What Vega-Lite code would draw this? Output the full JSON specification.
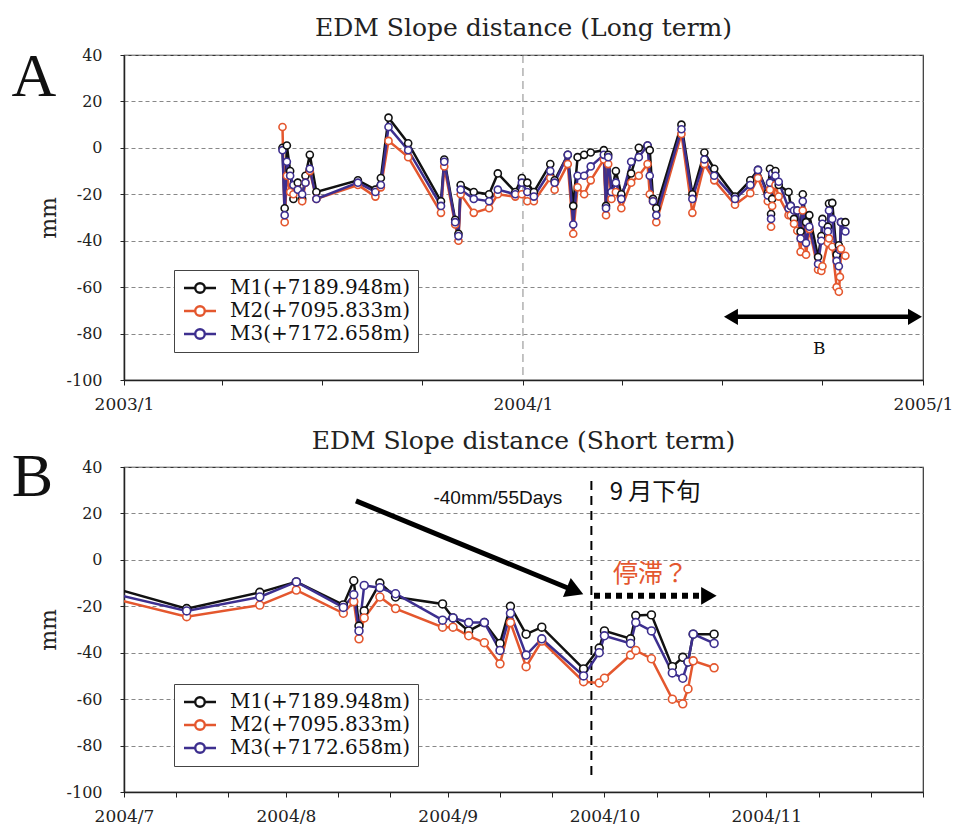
{
"$schema": "https://vega.github.io/schema/vega-lite/v6.json",
"padding": {"left": 10, "top": 15, "right": 0, "bottom": 0},
"background": "white",
"config": {
 "font": "DejaVu Serif",
 "view": {"stroke": "#333", "strokeWidth": 1.2},
 "axis": {"labelFont": "DejaVu Serif", "labelColor": "#222", "titleFont": "DejaVu Serif", "titleColor": "#222", "titleFontWeight": "normal", "domainColor": "#222", "domainWidth": 1.5, "tickColor": "#222"},
 "axisX": {"grid": false, "labelFontSize": 17, "tickSize": 5, "labelPadding": 11, "labelAngle": 0, "labelFlush": false, "labelOverlap": false},
 "axisY": {"grid": true, "gridColor": "#888", "gridDash": [4, 3], "gridWidth": 1, "labelFontSize": 16, "tickSize": 4, "labelPadding": 18, "titleFontSize": 22, "titlePadding": 6, "labelExpr": "toString(datum.value)"},
 "title": {"font": "DejaVu Serif", "fontSize": 25, "fontWeight": "normal", "color": "#222", "offset": 5},
 "legend": {"orient": "none", "title": null, "symbolType": "M-2,0H-0.6M0.6,0H2M-0.6,0A0.6,0.6,0,1,1,0.6,0A0.6,0.6,0,1,1,-0.6,0Z", "symbolSize": 256, "symbolStrokeWidth": 2.4, "symbolFillColor": "white", "symbolOffset": 8, "labelFont": "DejaVu Serif", "labelFontSize": 20, "labelColor": "#111", "labelLimit": 500, "strokeColor": "#444", "fillColor": "white", "padding": 8, "rowPadding": 3, "labelOffset": 20}
},
"datasets": {
 "edm": [
{"d":"2003-05-26","s":"M1","v":0},{"d":"2003-05-26","s":"M2","v":9},{"d":"2003-05-26","s":"M3","v":-1},
{"d":"2003-05-28","s":"M1","v":-26},{"d":"2003-05-28","s":"M2","v":-32},{"d":"2003-05-28","s":"M3","v":-29},
{"d":"2003-05-30","s":"M1","v":1},{"d":"2003-05-30","s":"M2","v":-12},{"d":"2003-05-30","s":"M3","v":-6},
{"d":"2003-06-02","s":"M1","v":-10},{"d":"2003-06-02","s":"M2","v":-19},{"d":"2003-06-02","s":"M3","v":-12},
{"d":"2003-06-05","s":"M1","v":-22},{"d":"2003-06-05","s":"M2","v":-20},{"d":"2003-06-05","s":"M3","v":-16},
{"d":"2003-06-09","s":"M1","v":-15},{"d":"2003-06-09","s":"M2","v":-18},{"d":"2003-06-09","s":"M3","v":-18},
{"d":"2003-06-13","s":"M1","v":-22},{"d":"2003-06-13","s":"M2","v":-23},{"d":"2003-06-13","s":"M3","v":-20},
{"d":"2003-06-16","s":"M1","v":-12},{"d":"2003-06-16","s":"M2","v":-15},{"d":"2003-06-16","s":"M3","v":-15},
{"d":"2003-06-20","s":"M1","v":-3},{"d":"2003-06-20","s":"M2","v":-10},{"d":"2003-06-20","s":"M3","v":-9},
{"d":"2003-06-26","s":"M1","v":-19},{"d":"2003-06-26","s":"M2","v":-22},{"d":"2003-06-26","s":"M3","v":-22},
{"d":"2003-08-03","s":"M1","v":-14},{"d":"2003-08-03","s":"M2","v":-16},{"d":"2003-08-03","s":"M3","v":-15},
{"d":"2003-08-19","s":"M1","v":-18},{"d":"2003-08-19","s":"M2","v":-21},{"d":"2003-08-19","s":"M3","v":-19},
{"d":"2003-08-24","s":"M1","v":-13},{"d":"2003-08-24","s":"M2","v":-17},{"d":"2003-08-24","s":"M3","v":-16},
{"d":"2003-08-31","s":"M1","v":13},{"d":"2003-08-31","s":"M2","v":3},{"d":"2003-08-31","s":"M3","v":9},
{"d":"2003-09-18","s":"M1","v":2},{"d":"2003-09-18","s":"M2","v":-4},{"d":"2003-09-18","s":"M3","v":-1},
{"d":"2003-10-18","s":"M1","v":-23},{"d":"2003-10-18","s":"M2","v":-28},{"d":"2003-10-18","s":"M3","v":-25},
{"d":"2003-10-21","s":"M1","v":-5},{"d":"2003-10-21","s":"M2","v":-8},{"d":"2003-10-21","s":"M3","v":-6},
{"d":"2003-10-31","s":"M1","v":-31},{"d":"2003-10-31","s":"M2","v":-33},{"d":"2003-10-31","s":"M3","v":-32},
{"d":"2003-11-03","s":"M1","v":-37},{"d":"2003-11-03","s":"M2","v":-40},{"d":"2003-11-03","s":"M3","v":-38},
{"d":"2003-11-05","s":"M1","v":-16},{"d":"2003-11-05","s":"M2","v":-20},{"d":"2003-11-05","s":"M3","v":-18},
{"d":"2003-11-17","s":"M1","v":-19},{"d":"2003-11-17","s":"M2","v":-28},{"d":"2003-11-17","s":"M3","v":-22},
{"d":"2003-12-01","s":"M1","v":-20},{"d":"2003-12-01","s":"M2","v":-26},{"d":"2003-12-01","s":"M3","v":-23},
{"d":"2003-12-09","s":"M1","v":-11},{"d":"2003-12-09","s":"M2","v":-20},{"d":"2003-12-09","s":"M3","v":-18},
{"d":"2003-12-25","s":"M1","v":-19},{"d":"2003-12-25","s":"M2","v":-21},{"d":"2003-12-25","s":"M3","v":-20},
{"d":"2003-12-31","s":"M1","v":-13},{"d":"2003-12-31","s":"M2","v":-20},{"d":"2003-12-31","s":"M3","v":-15},
{"d":"2004-01-05","s":"M1","v":-15},{"d":"2004-01-05","s":"M2","v":-23},{"d":"2004-01-05","s":"M3","v":-19},
{"d":"2004-01-11","s":"M1","v":-19},{"d":"2004-01-11","s":"M2","v":-23},{"d":"2004-01-11","s":"M3","v":-21},
{"d":"2004-01-26","s":"M1","v":-7},{"d":"2004-01-26","s":"M2","v":-13},{"d":"2004-01-26","s":"M3","v":-10},
{"d":"2004-01-30","s":"M1","v":-14},{"d":"2004-01-30","s":"M2","v":-18},{"d":"2004-01-30","s":"M3","v":-15},
{"d":"2004-02-11","s":"M1","v":-3},{"d":"2004-02-11","s":"M2","v":-7},{"d":"2004-02-11","s":"M3","v":-3},
{"d":"2004-02-16","s":"M1","v":-25},{"d":"2004-02-16","s":"M2","v":-37},{"d":"2004-02-16","s":"M3","v":-33},
{"d":"2004-02-20","s":"M1","v":-4},{"d":"2004-02-20","s":"M2","v":-17},{"d":"2004-02-20","s":"M3","v":-12},
{"d":"2004-02-26","s":"M1","v":-3},{"d":"2004-02-26","s":"M2","v":-20},{"d":"2004-02-26","s":"M3","v":-12},
{"d":"2004-03-03","s":"M1","v":-2},{"d":"2004-03-03","s":"M2","v":-14},{"d":"2004-03-03","s":"M3","v":-8},
{"d":"2004-03-15","s":"M1","v":-1},{"d":"2004-03-15","s":"M2","v":-5},{"d":"2004-03-15","s":"M3","v":-3},
{"d":"2004-03-17","s":"M1","v":-25},{"d":"2004-03-17","s":"M2","v":-29},{"d":"2004-03-17","s":"M3","v":-26},
{"d":"2004-03-19","s":"M1","v":-3},{"d":"2004-03-19","s":"M2","v":-7},{"d":"2004-03-19","s":"M3","v":-4},
{"d":"2004-03-22","s":"M1","v":-19},{"d":"2004-03-22","s":"M2","v":-22},{"d":"2004-03-22","s":"M3","v":-19},
{"d":"2004-03-26","s":"M1","v":-10},{"d":"2004-03-26","s":"M2","v":-19},{"d":"2004-03-26","s":"M3","v":-15},
{"d":"2004-03-31","s":"M1","v":-20},{"d":"2004-03-31","s":"M2","v":-26},{"d":"2004-03-31","s":"M3","v":-22},
{"d":"2004-04-09","s":"M1","v":-11},{"d":"2004-04-09","s":"M2","v":-15},{"d":"2004-04-09","s":"M3","v":-6},
{"d":"2004-04-16","s":"M1","v":0},{"d":"2004-04-16","s":"M2","v":-12},{"d":"2004-04-16","s":"M3","v":-4},
{"d":"2004-04-24","s":"M1","v":1},{"d":"2004-04-24","s":"M2","v":-7},{"d":"2004-04-24","s":"M3","v":1},
{"d":"2004-04-26","s":"M1","v":-1},{"d":"2004-04-26","s":"M2","v":-20},{"d":"2004-04-26","s":"M3","v":-12},
{"d":"2004-04-29","s":"M1","v":-22},{"d":"2004-04-29","s":"M2","v":-23},{"d":"2004-04-29","s":"M3","v":-23},
{"d":"2004-05-02","s":"M1","v":-26},{"d":"2004-05-02","s":"M2","v":-32},{"d":"2004-05-02","s":"M3","v":-29},
{"d":"2004-05-25","s":"M1","v":10},{"d":"2004-05-25","s":"M2","v":6},{"d":"2004-05-25","s":"M3","v":8},
{"d":"2004-06-04","s":"M1","v":-20},{"d":"2004-06-04","s":"M2","v":-28},{"d":"2004-06-04","s":"M3","v":-22},
{"d":"2004-06-15","s":"M1","v":-2},{"d":"2004-06-15","s":"M2","v":-7},{"d":"2004-06-15","s":"M3","v":-5},
{"d":"2004-06-24","s":"M1","v":-9},{"d":"2004-06-24","s":"M2","v":-14},{"d":"2004-06-24","s":"M3","v":-12},
{"d":"2004-07-13","s":"M1","v":-21},{"d":"2004-07-13","s":"M2","v":-24.5},{"d":"2004-07-13","s":"M3","v":-22},
{"d":"2004-07-27","s":"M1","v":-14},{"d":"2004-07-27","s":"M2","v":-19.5},{"d":"2004-07-27","s":"M3","v":-16},
{"d":"2004-08-03","s":"M1","v":-9.5},{"d":"2004-08-03","s":"M2","v":-13},{"d":"2004-08-03","s":"M3","v":-9.5},
{"d":"2004-08-12","s":"M1","v":-19.4},{"d":"2004-08-12","s":"M2","v":-23},{"d":"2004-08-12","s":"M3","v":-20.5},
{"d":"2004-08-14","s":"M1","v":-9},{"d":"2004-08-14","s":"M2","v":-18},{"d":"2004-08-14","s":"M3","v":-15},
{"d":"2004-08-15","s":"M1","v":-28.5},{"d":"2004-08-15","s":"M2","v":-34},{"d":"2004-08-15","s":"M3","v":-30.6},
{"d":"2004-08-16","s":"M1","v":-22},{"d":"2004-08-16","s":"M2","v":-25},{"d":"2004-08-16","s":"M3","v":-11},
{"d":"2004-08-19","s":"M1","v":-10},{"d":"2004-08-19","s":"M2","v":-16},{"d":"2004-08-19","s":"M3","v":-12},
{"d":"2004-08-22","s":"M1","v":-16},{"d":"2004-08-22","s":"M2","v":-21},{"d":"2004-08-22","s":"M3","v":-14.6},
{"d":"2004-08-31","s":"M1","v":-19},{"d":"2004-08-31","s":"M2","v":-29},{"d":"2004-08-31","s":"M3","v":-26},
{"d":"2004-09-02","s":"M1","v":-25},{"d":"2004-09-02","s":"M2","v":-29},{"d":"2004-09-02","s":"M3","v":-25},
{"d":"2004-09-05","s":"M1","v":-30.6},{"d":"2004-09-05","s":"M2","v":-32.7},{"d":"2004-09-05","s":"M3","v":-27},
{"d":"2004-09-08","s":"M1","v":-27},{"d":"2004-09-08","s":"M2","v":-35.7},{"d":"2004-09-08","s":"M3","v":-27},
{"d":"2004-09-11","s":"M1","v":-36},{"d":"2004-09-11","s":"M2","v":-44.8},{"d":"2004-09-11","s":"M3","v":-39},
{"d":"2004-09-13","s":"M1","v":-20},{"d":"2004-09-13","s":"M2","v":-27},{"d":"2004-09-13","s":"M3","v":-23},
{"d":"2004-09-16","s":"M1","v":-32},{"d":"2004-09-16","s":"M2","v":-46},{"d":"2004-09-16","s":"M3","v":-41},
{"d":"2004-09-19","s":"M1","v":-29},{"d":"2004-09-19","s":"M2","v":-35},{"d":"2004-09-19","s":"M3","v":-34},
{"d":"2004-09-27","s":"M1","v":-47},{"d":"2004-09-27","s":"M2","v":-52.5},{"d":"2004-09-27","s":"M3","v":-50},
{"d":"2004-09-30","s":"M1","v":-38},{"d":"2004-09-30","s":"M2","v":-53},{"d":"2004-09-30","s":"M3","v":-40},
{"d":"2004-10-01","s":"M1","v":-30.6},{"d":"2004-10-01","s":"M2","v":-51},{"d":"2004-10-01","s":"M3","v":-32.7},
{"d":"2004-10-06","s":"M1","v":-34},{"d":"2004-10-06","s":"M2","v":-41},{"d":"2004-10-06","s":"M3","v":-36},
{"d":"2004-10-07","s":"M1","v":-24},{"d":"2004-10-07","s":"M2","v":-39},{"d":"2004-10-07","s":"M3","v":-27},
{"d":"2004-10-10","s":"M1","v":-23.7},{"d":"2004-10-10","s":"M2","v":-42.6},{"d":"2004-10-10","s":"M3","v":-30.6},
{"d":"2004-10-14","s":"M1","v":-46},{"d":"2004-10-14","s":"M2","v":-60},{"d":"2004-10-14","s":"M3","v":-48.7},
{"d":"2004-10-16","s":"M1","v":-42},{"d":"2004-10-16","s":"M2","v":-62},{"d":"2004-10-16","s":"M3","v":-51},
{"d":"2004-10-17","s":"M1","v":-44},{"d":"2004-10-17","s":"M2","v":-55.6},{"d":"2004-10-17","s":"M3","v":-44},
{"d":"2004-10-18","s":"M1","v":-32},{"d":"2004-10-18","s":"M2","v":-43.5},{"d":"2004-10-18","s":"M3","v":-32},
{"d":"2004-10-22","s":"M1","v":-32},{"d":"2004-10-22","s":"M2","v":-46.5},{"d":"2004-10-22","s":"M3","v":-36}
 ]
},
"spacing": 15,
"resolve": {"legend": {"stroke": "independent"}},
"vconcat": [
 {
  "width": 799, "height": 325,
  "title": {"text": "EDM Slope distance (Long term)"},
  "layer": [
   {
    "data": {"values": [{"d": "2004-01-01", "v1": 40, "v2": -100}]},
    "mark": {"type": "rule", "color": "#888", "strokeDash": [8, 5], "strokeWidth": 1},
    "encoding": {
     "x": {"field": "d", "type": "temporal", "scale": {"type": "utc", "domain": [1041379200000, 1104537600000]}, "title": null,
      "axis": {"values": [1041379200000, 1049155200000, 1057017600000, 1064966400000, 1072915200000, 1080777600000, 1088640000000, 1096588800000, 1104537600000], "labelExpr": "utcmonth(datum.value) == 0 ? utcFormat(datum.value, '%Y/%-m') : ''"}},
     "y": {"field": "v1", "type": "quantitative", "scale": {"domain": [-100, 40], "nice": false}, "title": "mm", "axis": {"values": [-100, -80, -60, -40, -20, 0, 20, 40]}},
     "y2": {"field": "v2"}
    }
   },
   {
    "data": {"name": "edm"},
    "mark": {"type": "line", "strokeWidth": 2.5},
    "encoding": {
     "x": {"field": "d", "type": "temporal", "scale": {"type": "utc", "domain": [1041379200000, 1104537600000]}, "title": null},
     "y": {"field": "v", "type": "quantitative", "scale": {"domain": [-100, 40], "nice": false}, "title": "mm"},
     "stroke": {"field": "s", "type": "nominal", "scale": {"domain": ["M1", "M2", "M3"], "range": ["#111111", "#e4572e", "#3d2f8f"]},
      "legend": {"legendX": 50, "legendY": 215, "labelExpr": "datum.label == 'M1' ? 'M1(+7189.948m)' : datum.label == 'M2' ? 'M2(+7095.833m)' : 'M3(+7172.658m)'"}}
    }
   },
   {
    "data": {"name": "edm"},
    "mark": {"type": "point", "shape": "circle", "filled": true, "fill": "white", "strokeWidth": 1.6, "size": 50, "opacity": 1},
    "encoding": {
     "x": {"field": "d", "type": "temporal", "scale": {"type": "utc", "domain": [1041379200000, 1104537600000]}, "title": null},
     "y": {"field": "v", "type": "quantitative", "scale": {"domain": [-100, 40], "nice": false}, "title": "mm"},
     "stroke": {"field": "s", "type": "nominal", "scale": {"domain": ["M1", "M2", "M3"], "range": ["#111111", "#e4572e", "#3d2f8f"]},
      "legend": {"legendX": 50, "legendY": 215, "labelExpr": "datum.label == 'M1' ? 'M1(+7189.948m)' : datum.label == 'M2' ? 'M2(+7095.833m)' : 'M3(+7172.658m)'"}}
    }
   },
   {
    "data": {"values": [{"d1": "2004-07-09T07:00:00Z", "d2": "2004-12-24T16:00:00Z", "v": -72.8}]},
    "mark": {"type": "rule", "color": "#000", "strokeWidth": 4.5},
    "encoding": {
     "x": {"field": "d1", "type": "temporal", "scale": {"type": "utc", "domain": [1041379200000, 1104537600000]}, "title": null},
     "x2": {"field": "d2"},
     "y": {"field": "v", "type": "quantitative", "scale": {"domain": [-100, 40], "nice": false}, "title": "mm"}
    }
   },
   {
    "data": {"values": [{"d": "2004-07-09T07:00:00Z", "v": -72.8, "sh": "triangle-left"}, {"d": "2004-12-24T16:00:00Z", "v": -72.8, "sh": "triangle-right"}]},
    "mark": {"type": "point", "filled": true, "color": "#000", "size": 260, "opacity": 1},
    "encoding": {
     "x": {"field": "d", "type": "temporal", "scale": {"type": "utc", "domain": [1041379200000, 1104537600000]}, "title": null},
     "y": {"field": "v", "type": "quantitative", "scale": {"domain": [-100, 40], "nice": false}, "title": "mm"},
     "shape": {"field": "sh", "type": "nominal", "scale": null, "legend": null}
    }
   },
   {
    "data": {"values": [{"d": "2004-09-28", "v": -86.6, "t": "B"}]},
    "mark": {"type": "text", "font": "DejaVu Serif", "fontSize": 17, "align": "center", "baseline": "middle", "color": "#111"},
    "encoding": {
     "x": {"field": "d", "type": "temporal", "scale": {"type": "utc", "domain": [1041379200000, 1104537600000]}, "title": null},
     "y": {"field": "v", "type": "quantitative", "scale": {"domain": [-100, 40], "nice": false}, "title": "mm"},
     "text": {"field": "t"}
    }
   },
   {
    "data": {"values": [{"d": "2002-09-20", "v": 22.5, "t": "A"}]},
    "mark": {"type": "text", "font": "Liberation Serif", "fontSize": 62, "align": "left", "baseline": "alphabetic", "color": "#111"},
    "encoding": {
     "x": {"field": "d", "type": "temporal", "scale": {"type": "utc", "domain": [1041379200000, 1104537600000]}, "title": null},
     "y": {"field": "v", "type": "quantitative", "scale": {"domain": [-100, 40], "nice": false}, "title": "mm"},
     "text": {"field": "t"}
    }
   }
  ]
 },
 {
  "width": 799, "height": 325,
  "title": {"text": "EDM Slope distance (Short term)", "offset": -8},
  "layer": [
   {
    "data": {"values": [{"d": "2004-09-28T12:00:00Z", "v1": 34, "v2": -93}]},
    "mark": {"type": "rule", "color": "#000", "strokeDash": [9, 6], "strokeWidth": 2},
    "encoding": {
     "x": {"field": "d", "type": "temporal", "scale": {"type": "utc", "domain": [1088640000000, 1101859200000]}, "title": null,
      "axis": {"values": [1088640000000, 1089504000000, 1090368000000, 1091318400000, 1092182400000, 1093046400000, 1093996800000, 1094860800000, 1095724800000, 1096588800000, 1097452800000, 1098316800000, 1099267200000, 1100131200000, 1100995200000, 1101859200000], "labelExpr": "utcdate(datum.value) == 1 && datum.value < 1101859200000 ? utcFormat(datum.value, '%Y/%-m') : ''"}},
     "y": {"field": "v1", "type": "quantitative", "scale": {"domain": [-100, 40], "nice": false}, "title": "mm", "axis": {"values": [-100, -80, -60, -40, -20, 0, 20, 40]}},
     "y2": {"field": "v2"}
    }
   },
   {
    "data": {"name": "edm"},
    "mark": {"type": "line", "strokeWidth": 2.5, "clip": true},
    "encoding": {
     "x": {"field": "d", "type": "temporal", "scale": {"type": "utc", "domain": [1088640000000, 1101859200000]}, "title": null},
     "y": {"field": "v", "type": "quantitative", "scale": {"domain": [-100, 40], "nice": false}, "title": "mm"},
     "stroke": {"field": "s", "type": "nominal", "scale": {"domain": ["M1", "M2", "M3"], "range": ["#111111", "#e4572e", "#3d2f8f"]},
      "legend": {"legendX": 50, "legendY": 217, "labelExpr": "datum.label == 'M1' ? 'M1(+7189.948m)' : datum.label == 'M2' ? 'M2(+7095.833m)' : 'M3(+7172.658m)'"}}
    }
   },
   {
    "data": {"name": "edm"},
    "mark": {"type": "point", "shape": "circle", "filled": true, "fill": "white", "strokeWidth": 1.6, "size": 62, "opacity": 1, "clip": true},
    "encoding": {
     "x": {"field": "d", "type": "temporal", "scale": {"type": "utc", "domain": [1088640000000, 1101859200000]}, "title": null},
     "y": {"field": "v", "type": "quantitative", "scale": {"domain": [-100, 40], "nice": false}, "title": "mm"},
     "stroke": {"field": "s", "type": "nominal", "scale": {"domain": ["M1", "M2", "M3"], "range": ["#111111", "#e4572e", "#3d2f8f"]},
      "legend": {"legendX": 50, "legendY": 217, "labelExpr": "datum.label == 'M1' ? 'M1(+7189.948m)' : datum.label == 'M2' ? 'M2(+7095.833m)' : 'M3(+7172.658m)'"}}
    }
   },
   {
    "data": {"values": [{"d1": "2004-08-14T10:00:00Z", "v1": 25.4, "d2": "2004-09-25T09:00:00Z", "v2": -13.4}]},
    "mark": {"type": "rule", "color": "#000", "strokeWidth": 5},
    "encoding": {
     "x": {"field": "d1", "type": "temporal", "scale": {"type": "utc", "domain": [1088640000000, 1101859200000]}, "title": null},
     "x2": {"field": "d2"},
     "y": {"field": "v1", "type": "quantitative", "scale": {"domain": [-100, 40], "nice": false}, "title": "mm"},
     "y2": {"field": "v2"}
    }
   },
   {
    "data": {"values": [{"d": "2004-09-25T09:00:00Z", "v": -13.4}]},
    "mark": {"type": "point", "shape": "triangle-right", "angle": 22.3, "filled": true, "color": "#000", "size": 420, "opacity": 1},
    "encoding": {
     "x": {"field": "d", "type": "temporal", "scale": {"type": "utc", "domain": [1088640000000, 1101859200000]}, "title": null},
     "y": {"field": "v", "type": "quantitative", "scale": {"domain": [-100, 40], "nice": false}, "title": "mm"}
    }
   },
   {
    "data": {"values": [{"d1": "2004-09-29T00:00:00Z", "d2": "2004-10-20T00:00:00Z", "v": -15.5}]},
    "mark": {"type": "rule", "color": "#000", "strokeWidth": 6, "strokeDash": [6, 5], "strokeCap": "butt"},
    "encoding": {
     "x": {"field": "d1", "type": "temporal", "scale": {"type": "utc", "domain": [1088640000000, 1101859200000]}, "title": null},
     "x2": {"field": "d2"},
     "y": {"field": "v", "type": "quantitative", "scale": {"domain": [-100, 40], "nice": false}, "title": "mm"}
    }
   },
   {
    "data": {"values": [{"d": "2004-10-21T00:00:00Z", "v": -15.5}]},
    "mark": {"type": "point", "shape": "triangle-right", "filled": true, "color": "#000", "size": 320, "opacity": 1},
    "encoding": {
     "x": {"field": "d", "type": "temporal", "scale": {"type": "utc", "domain": [1088640000000, 1101859200000]}, "title": null},
     "y": {"field": "v", "type": "quantitative", "scale": {"domain": [-100, 40], "nice": false}, "title": "mm"}
    }
   },
   {
    "data": {"values": [{"d": "2004-09-10T14:00:00Z", "v": 26.7, "t": "-40mm/55Days"}]},
    "mark": {"type": "text", "font": "Liberation Sans", "fontSize": 19, "align": "center", "baseline": "middle", "color": "#111"},
    "encoding": {
     "x": {"field": "d", "type": "temporal", "scale": {"type": "utc", "domain": [1088640000000, 1101859200000]}, "title": null},
     "y": {"field": "v", "type": "quantitative", "scale": {"domain": [-100, 40], "nice": false}, "title": "mm"},
     "text": {"field": "t"}
    }
   },
   {
    "data": {"values": [{"d": "2004-10-02T00:00:00Z", "v": 28.9, "t": "9 月下旬"}]},
    "mark": {"type": "text", "font": "Noto Sans CJK JP", "fontSize": 24, "align": "left", "baseline": "middle", "color": "#111"},
    "encoding": {
     "x": {"field": "d", "type": "temporal", "scale": {"type": "utc", "domain": [1088640000000, 1101859200000]}, "title": null},
     "y": {"field": "v", "type": "quantitative", "scale": {"domain": [-100, 40], "nice": false}, "title": "mm"},
     "text": {"field": "t"}
    }
   },
   {
    "data": {"values": [{"d": "2004-10-02T15:00:00Z", "v": -6, "t": "停滞？"}]},
    "mark": {"type": "text", "font": "Noto Sans CJK JP", "fontSize": 25, "align": "left", "baseline": "middle", "color": "#e4572e"},
    "encoding": {
     "x": {"field": "d", "type": "temporal", "scale": {"type": "utc", "domain": [1088640000000, 1101859200000]}, "title": null},
     "y": {"field": "v", "type": "quantitative", "scale": {"domain": [-100, 40], "nice": false}, "title": "mm"},
     "text": {"field": "t"}
    }
   },
   {
    "data": {"values": [{"d": "2004-06-09T12:00:00Z", "v": 27.5, "t": "B"}]},
    "mark": {"type": "text", "font": "Liberation Serif", "fontSize": 62, "align": "left", "baseline": "alphabetic", "color": "#111"},
    "encoding": {
     "x": {"field": "d", "type": "temporal", "scale": {"type": "utc", "domain": [1088640000000, 1101859200000]}, "title": null},
     "y": {"field": "v", "type": "quantitative", "scale": {"domain": [-100, 40], "nice": false}, "title": "mm"},
     "text": {"field": "t"}
    }
   }
  ]
 }
]
}
